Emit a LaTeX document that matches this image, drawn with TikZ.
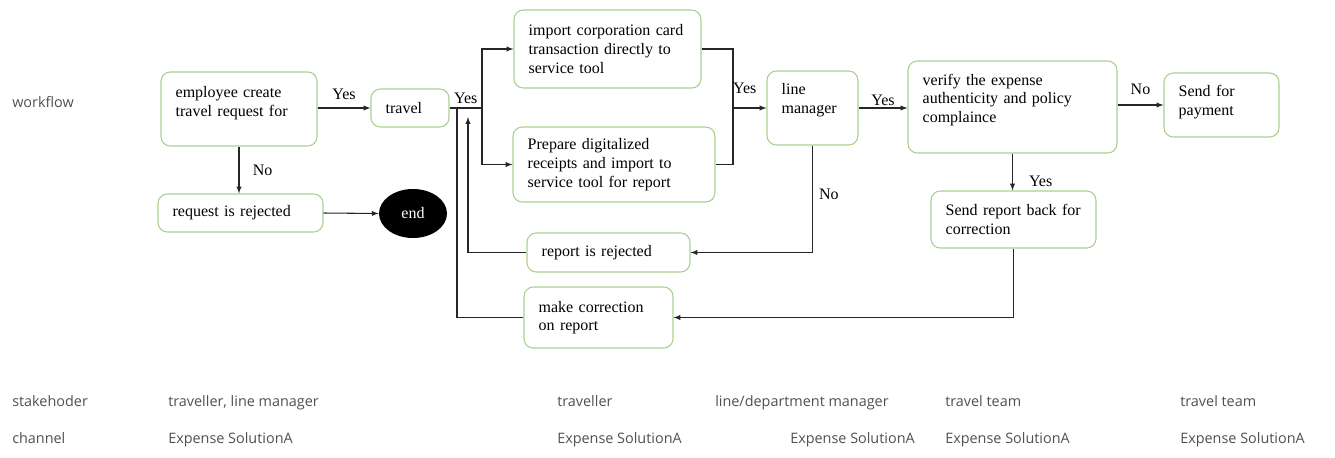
\documentclass[tikz,border=0pt]{standalone}
\usepackage{fontspec}
\setmainfont{Liberation Serif}
\newfontfamily\lanefont{Open Sans}
\usetikzlibrary{shapes.geometric}

\definecolor{boxgreen}{RGB}{169,208,142}
\definecolor{lanegray}{RGB}{80,80,80}

\tikzset{
  box/.style={draw=boxgreen, line width=0.8pt, rounded corners=7pt, align=left,
    inner xsep=11pt, inner ysep=0pt, font=\fontsize{12}{14}\selectfont},
  flow/.style={draw=black!85, line width=0.8pt},
  tag/.style={font=\fontsize{12}{14}\selectfont, inner sep=0pt},
  lane/.style={anchor=base west, inner sep=0pt, text=lanegray,
    font=\lanefont\fontsize{10.8}{12}\selectfont}
}

\begin{document}
\begin{tikzpicture}[x=0.75pt, y=-0.75pt, >=latex]
  \useasboundingbox (0,0) rectangle (1335,457);

  % process boxes
  \node[box, text width=95pt, minimum height=55.5pt, text depth=25.6pt] (emp) at (239,109) {employee create\\travel request for};
  \node[box, text width=36.5pt, minimum height=28.5pt] (travel) at (410,108) {travel};
  \node[box, text width=101.75pt, minimum height=28.5pt] (reqrej) at (240.5,213) {request is rejected};
  \node[ellipse, fill=black, text=white, minimum width=51pt, minimum height=36.75pt, inner sep=0pt,
    font=\fontsize{12}{14}\selectfont] (endnode) at (413,213.5) {end};
  \node[box, text width=118.25pt, minimum height=58.5pt] (import) at (607.5,49) {import corporation card\\transaction directly to\\service tool};
  \node[box, text width=129.5pt, minimum height=56.25pt] (prepare) at (614,164.5) {Prepare digitalized\\receipts and import to\\service tool for report};
  \node[box, text width=46.25pt, minimum height=55.5pt, text depth=28.6pt] (lm) at (812.5,108) {line\\manager};
  \node[box, text width=134.75pt, minimum height=69pt, text depth=41pt] (verify) at (1012.5,107) {verify the expense\\authenticity and policy\\complaince};
  \node[box, text width=64.25pt, minimum height=48pt, text depth=21pt] (pay) at (1221.5,105) {Send for\\payment};
  \node[box, text width=101.75pt, minimum height=42.75pt] (sendback) at (1013.5,219.5) {Send report back for\\correction};
  \node[box, text width=100.25pt, minimum height=29.25pt] (reprej) at (608.5,252.5) {report is rejected};
  \node[box, text width=89.75pt, minimum height=45.75pt] (makecorr) at (598.5,317.5) {make correction\\on report};

  % joints of the connectors
  \coordinate (split) at (482,108);
  \coordinate (join) at (733,108);
  \coordinate (back1) at (468,117);
  \coordinate (back2) at (457,108);

  % connectors
  \draw[flow, ->] (emp.east |- travel.west) -- node[tag, above=6pt] {Yes} (travel.west);
  \draw[flow, ->] (emp.south) -- node[tag, right=10pt] {No} (emp.south |- reqrej.north);
  \draw[flow, ->] (reqrej.east) -- (endnode.west);
  \draw[flow] (travel.east) -- node[tag, above=3pt] {Yes} (split);
  \draw[flow, ->] (split) |- (import.west);
  \draw[flow, ->] (split) |- (prepare.west);
  \draw[flow] (import.east) -| (join);
  \draw[flow] (prepare.east) -| (join);
  \draw[flow, ->] (join) -- node[tag, above=10.5pt, pos=0.35] {Yes} (lm.west);
  \draw[flow, ->] (lm.east) -- node[tag, above=1.5pt] {Yes} (lm.east -| verify.west);
  \draw[flow, ->] (verify.east |- pay.west) -- node[tag, above=7pt] {No} (pay.west);
  \draw[flow, ->] (verify.south) -- node[tag, right=12pt, pos=0.75] {Yes} (verify.south |- sendback.north);
  \draw[flow, ->] (lm.south) |- node[tag, right=4.5pt, pos=0.23] {No} (reprej.east);
  \draw[flow, ->] (reprej.west) -| (back1);
  \draw[flow, ->] (sendback.south) |- (makecorr.east);
  \draw[flow] (makecorr.west) -| (back2);

  % lanes
  \node[lane] (wflabel) at (12,107) {workflow};
  \node[lane] (shlabel) at (12,406) {stakehoder};
  \node[lane] (chlabel) at (12,443) {channel};

  \node[lane] (sh1) at (168,406) {traveller, line manager};
  \node[lane] (sh2) at (557,406) {traveller};
  \node[lane] (sh3) at (715,406) {line/department manager};
  \node[lane] (sh4) at (945,406) {travel team};
  \node[lane] (sh5) at (1180,406) {travel team};

  \foreach \x [count=\i] in {168,557,790,945,1180}
    \node[lane] (ch\i) at (\x,443) {Expense SolutionA};
\end{tikzpicture}
\end{document}
